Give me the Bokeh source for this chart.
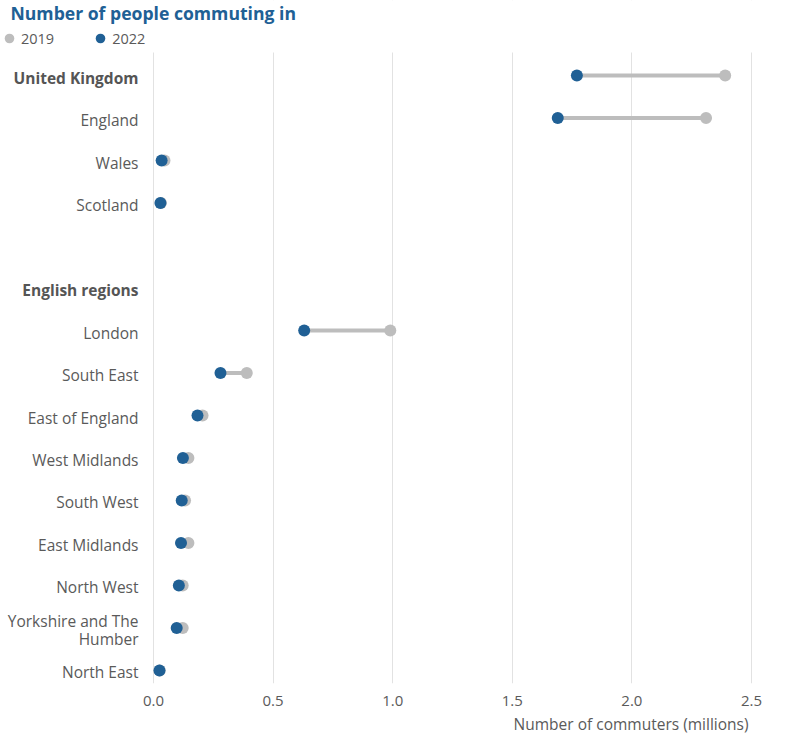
from bokeh.plotting import figure
from bokeh.models import (Range1d, Label, Legend, LegendItem, ColumnDataSource, FixedTicker,
                          NumeralTickFormatter, BoxAnnotation, Title)
from bokeh.embed import file_html
from bokeh.resources import INLINE

# ---- data ----
row_order = ["United Kingdom", "England", "Wales", "Scotland", "",
             "English regions", "London", "South East", "East of England",
             "West Midlands", "South West", "East Midlands", "North West",
             "Yorkshire and The Humber", "North East"]
row_text = {"Yorkshire and The Humber": "Yorkshire and The\nHumber"}
header_rows = ["United Kingdom", "English regions"]

areas = ["United Kingdom", "England", "Wales", "Scotland", "London", "South East",
         "East of England", "West Midlands", "South West", "East Midlands",
         "North West", "Yorkshire and The Humber", "North East"]
v2019 = [2.39, 2.31, 0.046, 0.031, 0.99, 0.39, 0.205, 0.146, 0.132, 0.146, 0.122, 0.122, 0.026]
v2022 = [1.77, 1.69, 0.034, 0.029, 0.63, 0.28, 0.184, 0.123, 0.118, 0.115, 0.106, 0.097, 0.025]
x_ticks = [0, 0.5, 1.0, 1.5, 2.0, 2.5]

BLUE = "#206095"
GREY = "#bdbdbd"
TEXT = "#5a5a5a"
FONT = "Open Sans"
FS = "15.5px"

ys = [row_order.index(a) for a in areas]
src = ColumnDataSource(dict(area=areas, y=ys, a=v2019, b=v2022))

Y_TOP = -1.765      # frame top (title and legend band)
Y_PLOT_TOP = -0.541  # where the grid starts
p = figure(width=788, height=748, output_backend="svg", toolbar_location=None,
           x_range=Range1d(-0.6396, 2.6547), y_range=Range1d(14.306, Y_TOP),
           min_border=0, min_border_left=0, min_border_right=0, min_border_top=0,
           min_border_bottom=65)
p.outline_line_color = None
p.background_fill_color = "white"
p.border_fill_color = "white"

p.segment(x0="a", x1="b", y0="y", y1="y", source=src, line_color=GREY, line_width=4)
r19 = p.scatter(x="a", y="y", source=src, size=12, fill_color=GREY, line_color=None)
r22 = p.scatter(x="b", y="y", source=src, size=12, fill_color=BLUE, line_color=None)

# axes
p.yaxis.visible = False
p.ygrid.visible = False
xa = p.xaxis[0]
xa.ticker = FixedTicker(ticks=x_ticks)
xa.formatter = NumeralTickFormatter(format="0.0")
xa.axis_line_color = None
xa.major_tick_line_color = None
xa.minor_tick_line_color = None
xa.major_label_text_font = FONT
xa.major_label_text_font_size = "15px"
xa.major_label_text_color = TEXT
xa.major_label_standoff = 6
p.xgrid.ticker = FixedTicker(ticks=x_ticks)
p.xgrid.grid_line_color = "#e2e2e2"
p.xgrid.grid_line_width = 1

# mask the grid in the title/legend band
p.add_layout(BoxAnnotation(top=Y_TOP, bottom=Y_PLOT_TOP, fill_color="white", fill_alpha=1,
                           line_color=None))

# title
p.add_layout(Label(x=10, x_units="screen", y=-1.482, text="Number of people commuting in",
                   text_align="left", text_baseline="middle", text_font=FONT,
                   text_font_size="17.6px", text_font_style="bold", text_color=BLUE))

# row labels
for name in row_order:
    if not name:
        continue
    bold = name in header_rows
    p.add_layout(Label(x=138, x_units="screen", y=row_order.index(name), y_offset=-2,
                       text=row_text.get(name, name),
                       text_align="right", text_baseline="middle",
                       text_font=FONT, text_font_size=FS, text_line_height=0.85,
                       text_font_style="bold" if bold else "normal",
                       text_color="#555555" if bold else TEXT))

# legend
legend = Legend(items=[LegendItem(label="2019", renderers=[r19]),
                       LegendItem(label="2022", renderers=[r22])],
                orientation="horizontal", location=(-3, 632),
                label_text_font=FONT, label_text_font_size="14.5px", label_text_color=TEXT,
                glyph_width=24, glyph_height=26, label_standoff=-2, spacing=34,
                padding=0, margin=0, border_line_color=None, background_fill_alpha=0)
p.add_layout(legend)

# x-axis title, right aligned
p.add_layout(Title(text="Number of commuters (millions)", align="right", offset=40,
                   text_font=FONT, text_font_size=FS, text_font_style="normal",
                   text_color=TEXT, standoff=4), "below")

open("out.html", "w").write(file_html(p, INLINE))
